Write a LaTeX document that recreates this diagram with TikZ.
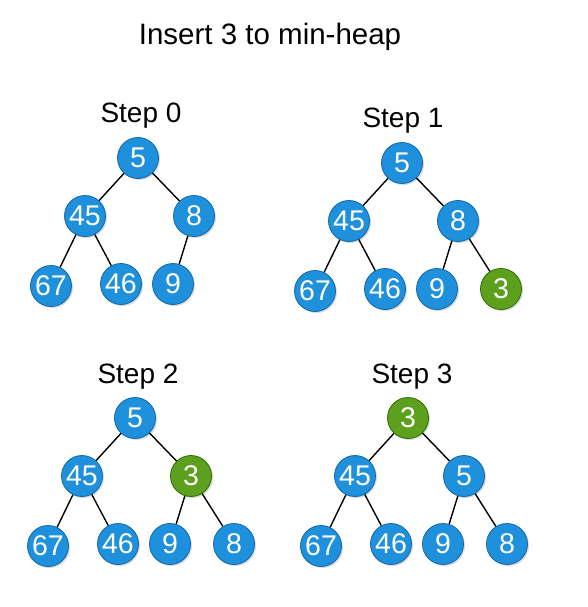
\documentclass[tikz,border=0pt]{standalone}
\usepackage{fontspec}
\setmainfont{Liberation Sans}
\usepackage{xcolor}
\usepackage{tikz}
\usetikzlibrary{shadows}
\definecolor{heapblue}{RGB}{30,144,220}
\definecolor{heapbluedark}{RGB}{16,104,170}
\definecolor{newgreen}{RGB}{92,160,30}
\definecolor{newgreendark}{RGB}{45,110,0}
\tikzset{
    keynode/.style={circle, minimum size=41pt, inner sep=0pt, draw=heapbluedark, fill=heapblue,
                    text=white, line width=0.8pt, font=\fontsize{28.5}{28.5}\selectfont,
                    drop shadow={opacity=0.3, shadow xshift=1.5pt, shadow yshift=-1.5pt}},
    newkey/.style={keynode, draw=newgreendark, fill=newgreen},
    steplabel/.style={anchor=base, font=\fontsize{28}{28}\selectfont},
    link/.style={line width=1.4pt, black}
}

\begin{document}
\begin{tikzpicture}[x=1pt, y=-1pt]
    \useasboundingbox (0,0) rectangle (588,607);

    % Title
    \node[steplabel, font=\fontsize{29.5}{29.5}\selectfont] (title) at (270,45) {Insert 3 to min-heap};

    % Step 0
    \begin{scope}[shift={(138,158)}]
        \node[steplabel] (s0lab) at (3,-35) {Step 0};
        \node[keynode] (s0a) at (0,0) {5};
        \node[keynode] (s0l) at (-53,58) {45};
        \node[keynode] (s0r) at (56,58) {8};
        \node[keynode] (s0ll) at (-87,128) {67};
        \node[keynode] (s0lr) at (-17,126) {46};
        \node[keynode] (s0rl) at (35,126) {9};
        \draw[link] (s0a) -- (s0l);
        \draw[link] (s0a) -- (s0r);
        \draw[link] (s0l) -- (s0ll);
        \draw[link] (s0l) -- (s0lr);
        \draw[link] (s0r) -- (s0rl);
    \end{scope}

    % Step 1
    \begin{scope}[shift={(402,163)}]
        \node[steplabel] (s1lab) at (1,-35) {Step 1};
        \node[keynode] (s1a) at (0,0) {5};
        \node[keynode] (s1l) at (-53,58) {45};
        \node[keynode] (s1r) at (56,58) {8};
        \node[keynode] (s1ll) at (-87,128) {67};
        \node[keynode] (s1lr) at (-17,126) {46};
        \node[keynode] (s1rl) at (35,126) {9};
        \node[newkey] (s1rr) at (99,126) {3};
        \draw[link] (s1a) -- (s1l);
        \draw[link] (s1a) -- (s1r);
        \draw[link] (s1l) -- (s1ll);
        \draw[link] (s1l) -- (s1lr);
        \draw[link] (s1r) -- (s1rl);
        \draw[link] (s1r) -- (s1rr);
    \end{scope}

    % Step 2
    \begin{scope}[shift={(135,418)}]
        \node[steplabel] (s2lab) at (3,-35) {Step 2};
        \node[keynode] (s2a) at (0,0) {5};
        \node[keynode] (s2l) at (-53,58) {45};
        \node[newkey] (s2r) at (56,58) {3};
        \node[keynode] (s2ll) at (-87,128) {67};
        \node[keynode] (s2lr) at (-17,126) {46};
        \node[keynode] (s2rl) at (35,126) {9};
        \node[keynode] (s2rr) at (99,126) {8};
        \draw[link] (s2a) -- (s2l);
        \draw[link] (s2a) -- (s2r);
        \draw[link] (s2l) -- (s2ll);
        \draw[link] (s2l) -- (s2lr);
        \draw[link] (s2r) -- (s2rl);
        \draw[link] (s2r) -- (s2rr);
    \end{scope}

    % Step 3
    \begin{scope}[shift={(408,418)}]
        \node[steplabel] (s3lab) at (4,-35) {Step 3};
        \node[newkey] (s3a) at (0,0) {3};
        \node[keynode] (s3l) at (-53,58) {45};
        \node[keynode] (s3r) at (56,58) {5};
        \node[keynode] (s3ll) at (-87,128) {67};
        \node[keynode] (s3lr) at (-17,126) {46};
        \node[keynode] (s3rl) at (35,126) {9};
        \node[keynode] (s3rr) at (99,126) {8};
        \draw[link] (s3a) -- (s3l);
        \draw[link] (s3a) -- (s3r);
        \draw[link] (s3l) -- (s3ll);
        \draw[link] (s3l) -- (s3lr);
        \draw[link] (s3r) -- (s3rl);
        \draw[link] (s3r) -- (s3rr);
    \end{scope}
\end{tikzpicture}
\end{document}
